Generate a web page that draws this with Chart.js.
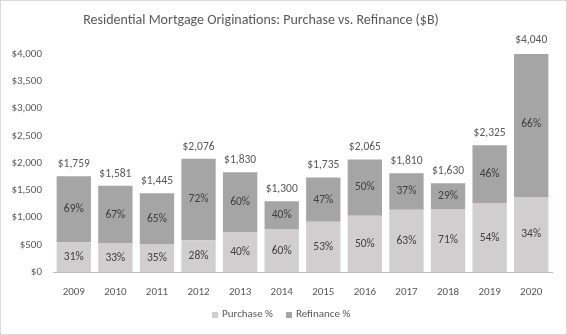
<!DOCTYPE html>
<html>
<head>
<meta charset="utf-8">
<script src="https://cdn.jsdelivr.net/npm/chart.js@4"></script>
<style>
  html, body { margin: 0; padding: 0; background: #fff; }
  #wrap { width: 567px; height: 335px; box-sizing: border-box; border: 1px solid #d9d9d9; position: relative; }
  canvas { display: block; }
</style>
</head>
<body>
<div id="wrap"><canvas id="chart" width="565" height="333"></canvas></div>
<script>
const years = ['2009', '2010', '2011', '2012', '2013', '2014', '2015', '2016', '2017', '2018', '2019', '2020'];
const totals = [1759, 1581, 1445, 2076, 1830, 1300, 1735, 2065, 1810, 1630, 2325, 4040];
const purchasePct = [31, 33, 35, 28, 40, 60, 53, 50, 63, 71, 54, 34];
const refinancePct = [69, 67, 65, 72, 60, 40, 47, 50, 37, 29, 46, 66];
// dollar amounts ($B) of each segment
const purchase = [545, 522, 506, 581, 732, 780, 920, 1033, 1140, 1157, 1256, 1374];
const refinance = [1214, 1059, 939, 1495, 1098, 520, 815, 1032, 670, 473, 1069, 2666];

const chartTitle = 'Residential Mortgage Originations: Purchase vs. Refinance ($B)';
const textColor = '#595959';
const fontFamily = 'Carlito, Calibri, Lato, sans-serif';

const labelPlugin = {
  id: 'barLabels',
  afterDatasetsDraw(chart) {
    const ctx = chart.ctx;
    ctx.save();
    ctx.textAlign = 'center';
    ctx.textBaseline = 'middle';

    // title
    ctx.font = '14px ' + fontFamily;
    ctx.fillStyle = textColor;
    ctx.fillText(chartTitle, 260, 19);

    // percent labels inside the segments
    ctx.font = '11.5px ' + fontFamily;
    ctx.fillStyle = '#404040';
    const pcts = [purchasePct, refinancePct];
    chart.data.datasets.forEach((ds, i) => {
      const meta = chart.getDatasetMeta(i);
      meta.data.forEach((bar, j) => {
        ctx.fillText(pcts[i][j] + '%', bar.x, (bar.y + bar.base) / 2);
      });
    });

    // totals above the bars
    const top = chart.getDatasetMeta(1);
    ctx.fillStyle = textColor;
    top.data.forEach((bar, j) => {
      ctx.fillText('$' + totals[j].toLocaleString('en-US'), bar.x, bar.y - 12);
    });

    // legend
    ctx.font = '11px ' + fontFamily;
    ctx.textAlign = 'left';
    let x = 211;
    chart.data.datasets.forEach(ds => {
      ctx.fillStyle = ds.backgroundColor;
      ctx.fillRect(x, 311, 6, 6);
      ctx.fillStyle = textColor;
      ctx.fillText(ds.label, x + 10, 313.5);
      x += 10 + ctx.measureText(ds.label).width + 13;
    });
    ctx.restore();
  }
};

new Chart(document.getElementById('chart'), {
  type: 'bar',
  data: {
    labels: years,
    datasets: [
      { label: 'Purchase %', data: purchase, backgroundColor: '#d0cece', barPercentage: 0.825, categoryPercentage: 1 },
      { label: 'Refinance %', data: refinance, backgroundColor: '#a5a5a5', barPercentage: 0.825, categoryPercentage: 1 }
    ]
  },
  options: {
    responsive: false,
    animation: false,
    layout: { padding: { left: 4, right: 14, top: 53, bottom: 32 } },
    plugins: {
      title: { display: false },
      legend: { display: false },
      tooltip: { enabled: false }
    },
    scales: {
      x: {
        stacked: true,
        grid: { display: false, drawTicks: false },
        border: { color: '#bfbfbf' },
        afterFit(scale) { scale.height = 30; },
        ticks: { color: textColor, font: { family: fontFamily, size: 11 }, padding: 14 }
      },
      y: {
        stacked: true,
        min: 0,
        max: 4000,
        grid: { display: false, drawTicks: false },
        border: { display: false },
        afterFit(scale) { scale.width = 48; },
        ticks: {
          stepSize: 500,
          color: textColor,
          font: { family: fontFamily, size: 11 },
          padding: 11,
          callback: v => '$' + v.toLocaleString('en-US')
        }
      }
    }
  },
  plugins: [labelPlugin]
});
</script>
</body>
</html>
